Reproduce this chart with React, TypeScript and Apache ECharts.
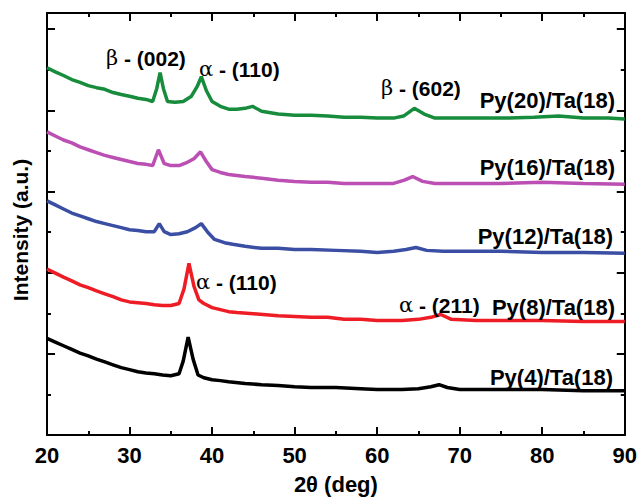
import React, { useEffect, useRef } from "react";
import * as echarts from "echarts";

// 2θ (deg) positions and intensities (a.u.)
const py20X = [20,21,22,23,24,25,26,27,28,29,30,31,32,32.8,33.3,33.7,34.1,34.6,35.5,36.5,37.5,38.2,38.7,39.3,40,41,42,43,44,44.9,46,48,50,52,54,56,58,60,62,63.2,64.5,65.7,67,70,73,76,79,82,85,88,90];
const py20Y = [905,895,886,876,869,861,856,852,844,839,835,830,827,822,854,893,854,822,820,822,835,859,883,849,822,810,803,803,805,810,798,791,788,788,786,783,783,781,781,786,805,791,781,781,781,781,783,786,781,781,779];

const py16X = [20,21,22,23,24,25,26,27,28,29,30,31,32,32.8,33.5,34.2,35,36,37,37.8,38.6,39.3,40,41,42,44,46,48,50,52,54,56,58,60,62,63.3,64.3,65.5,67,70,75,80,85,90];
const py16Y = [747,737,727,720,710,703,696,689,684,679,674,669,667,664,703,669,664,664,672,681,698,674,654,647,642,637,633,628,625,623,623,620,620,620,620,628,637,625,620,620,620,623,620,618];

const py12X = [20,21,22,23,24,25,26,27,28,29,30,31,32,33,33.6,34.2,35,36,37,38,38.7,39.5,40.3,41.5,42.5,44,46,48,50,52,55,58,60,62,63.5,64.7,66,68,70,75,80,85,90];
const py12Y = [577,567,557,547,540,533,526,521,516,511,506,504,501,501,521,501,494,496,501,511,521,499,482,474,470,465,460,460,457,457,455,453,450,453,457,462,455,453,453,453,450,450,448];

const py8X = [20,21,22,23,24,25,26,27,28,29,30,31,32,33,34,35,36,36.6,37.2,37.8,38.4,39,40,41,42,43,45,48,50,52,54,56,58,60,63,65,66.5,67.7,69,72,76,80,85,90];
const py8Y = [409,399,389,380,370,363,355,348,341,333,328,326,324,321,319,319,324,360,423,367,333,324,314,309,304,302,299,294,292,290,290,285,285,282,282,285,290,297,285,282,282,282,280,280];

const py4X = [20,21,22,23,24,25,26,27,28,29,30,31,32,33,34,35,36,36.5,37.1,37.7,38.3,39,40,41,42,44,46,48,50,52,55,58,60,63,65,66.5,67.5,68.5,70,75,80,85,90];
const py4Y = [238,229,220,211,202,195,187,180,173,166,161,156,153,151,148,146,151,182,241,187,148,141,136,134,131,127,124,122,119,117,117,114,112,112,114,119,124,117,112,112,112,109,109];

const seriesNames = ["Py(20)/Ta(18)", "Py(16)/Ta(18)", "Py(12)/Ta(18)", "Py(8)/Ta(18)", "Py(4)/Ta(18)"];
const seriesColors = ["#178c3c", "#bb4fb3", "#3a4ea3", "#ee1c25", "#000000"];
const xTicks = { min: 20, max: 90, interval: 10 };

const pair = (xs: number[], ys: number[]) => xs.map((x, i) => [x, ys[i]]);

export default function App() {
  const ref = useRef<HTMLDivElement>(null);
  useEffect(() => {
    if (!ref.current) return;
    const chart = echarts.init(ref.current, null, { renderer: "svg" });
    const font = "'Liberation Sans', Arial, sans-serif";
    const greek = "'DejaVu Serif', 'Liberation Serif', serif";
    const datasets = [pair(py20X, py20Y), pair(py16X, py16Y), pair(py12X, py12Y), pair(py8X, py8Y), pair(py4X, py4Y)];

    const xBase = (pos: "bottom" | "top", labels: boolean) => ({
      type: "value",
      position: pos,
      min: xTicks.min,
      max: xTicks.max,
      interval: xTicks.interval,
      axisLine: { show: true, onZero: false, lineStyle: { color: "#000", width: 2 } },
      axisTick: { show: true, inside: true, length: 8, lineStyle: { color: "#000", width: 2 } },
      minorTick: { show: true, splitNumber: 2, length: 4, lineStyle: { color: "#000", width: 2 } },
      splitLine: { show: false },
      axisLabel: labels
        ? { show: true, margin: 9, color: "#000", fontSize: 22, fontWeight: "bold", fontFamily: font }
        : { show: false },
      ...(labels
        ? {
            name: "2θ (deg)",
            nameLocation: "middle",
            nameGap: 38,
            nameTextStyle: { color: "#000", fontSize: 22, fontWeight: "bold", fontFamily: font },
          }
        : {}),
    });

    const yShort = (pos: "left" | "right") => ({
      type: "value",
      position: pos,
      min: 0,
      max: 1040,
      interval: 100,
      axisLine: { show: true, onZero: false, lineStyle: { color: "#000", width: 2 } },
      axisTick: { show: true, inside: true, length: 4, lineStyle: { color: "#000", width: 2 } },
      axisLabel: { show: false },
      splitLine: { show: false },
    });
    const yLong = (pos: "left" | "right") => ({
      type: "value",
      position: pos,
      min: -100,
      max: 940,
      interval: 200,
      axisLine: { show: false },
      axisTick: { show: true, inside: true, length: 8, lineStyle: { color: "#000", width: 2 } },
      axisLabel: { show: false },
      splitLine: { show: false },
    });

    const txt = (text: string, x: number, y: number, align: string, size: number) => ({
      type: "text",
      x,
      y,
      z: 100,
      style: {
        text,
        align,
        verticalAlign: "middle",
        fill: "#000",
        fontSize: size,
        fontWeight: "bold",
        fontFamily: font,
        rich: {
          g: { fontSize: size, fontWeight: "normal", fontFamily: greek, fill: "#000" },
          b: { fontSize: size, fontWeight: "bold", fontFamily: font, fill: "#000" },
        },
      },
    });

    chart.setOption({
      animation: false,
      backgroundColor: "#fff",
      grid: { left: 47, top: 13, right: 14, bottom: 59, containLabel: false },
      xAxis: [xBase("bottom", true), xBase("top", false)],
      yAxis: [yShort("left"), yLong("left"), yShort("right"), yLong("right")],
      series: datasets.map((d, i) => ({
        name: seriesNames[i],
        type: "line",
        xAxisIndex: 0,
        yAxisIndex: 0,
        data: d,
        showSymbol: false,
        symbol: "none",
        lineStyle: { color: seriesColors[i], width: 3.5 },
        itemStyle: { color: seriesColors[i] },
      })),
      graphic: [
        {
          type: "text",
          x: 20,
          y: 230,
          rotation: Math.PI / 2,
          z: 100,
          style: {
            text: "Intensity (a.u.)",
            align: "center",
            verticalAlign: "middle",
            fill: "#000",
            fontSize: 21,
            fontWeight: "bold",
            fontFamily: font,
          },
        },
        txt("{g|β}{b| - (002)}", 106, 58, "left", 21),
        txt("{g|α}{b| - (110)}", 199, 69, "left", 21),
        txt("{g|β}{b| - (602)}", 381, 88, "left", 21),
        txt("{g|α}{b| - (110)}", 196, 282, "left", 21),
        txt("{g|α}{b| - (211)}", 399, 305, "left", 21),
        txt(seriesNames[0], 615, 100, "right", 22),
        txt(seriesNames[1], 615, 167, "right", 22),
        txt(seriesNames[2], 613, 236, "right", 22),
        txt(seriesNames[3], 615, 307, "right", 22),
        txt(seriesNames[4], 613, 377, "right", 22),
      ],
    });
    return () => chart.dispose();
  }, []);
  return (
    <div
      ref={ref}
      style={{ position: "fixed", left: 0, top: 0, width: 640, height: 500, background: "#fff" }}
    />
  );
}
